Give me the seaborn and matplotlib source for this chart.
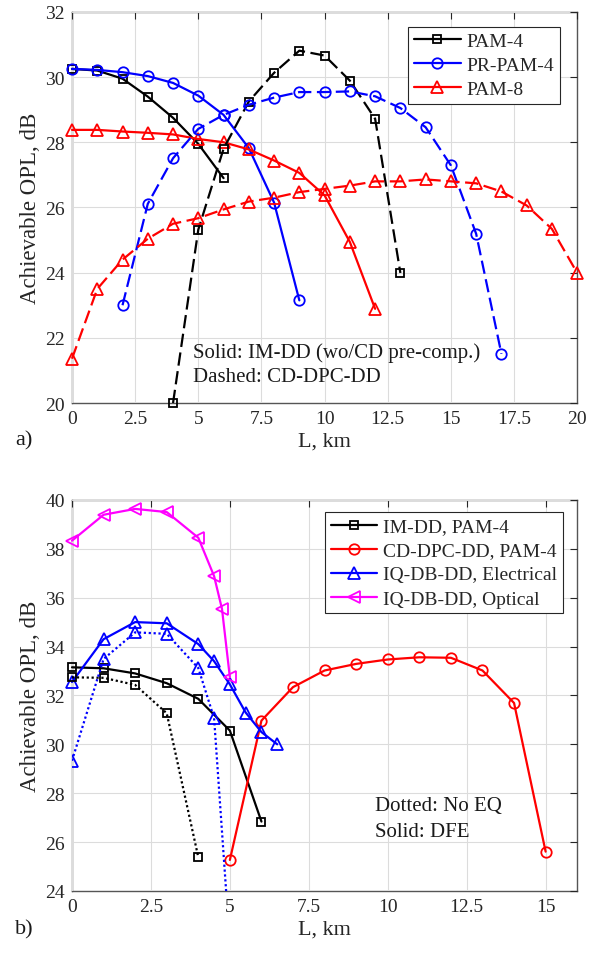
import numpy as np
import pandas as pd
import seaborn as sns
import matplotlib
matplotlib.use('Agg')
import matplotlib.pyplot as plt
from matplotlib.ticker import FuncFormatter

# ---- a) data: achievable OPL vs fibre length
L_pam4_im = [0, 1, 2, 3, 4, 5, 6]
opl_pam4_im = [30.25, 30.2, 29.95, 29.4, 28.75, 27.95, 26.9]
L_pr_im = [0, 1, 2, 3, 4, 5, 6, 7, 8, 9]
opl_pr_im = [30.25, 30.22, 30.15, 30.03, 29.82, 29.43, 28.84, 27.82, 26.15, 23.15]
L_pam8_im = [0, 1, 2, 3, 4, 5, 6, 7, 8, 9, 10, 11, 12]
opl_pam8_im = [28.38, 28.38, 28.33, 28.29, 28.24, 28.1, 28.0, 27.78, 27.44, 27.06, 26.37, 24.94, 22.89]

L_pam4_dpc = [4, 5, 6, 7, 8, 9, 10, 11, 12, 13]
opl_pam4_dpc = [20.0, 25.32, 27.8, 29.25, 30.13, 30.81, 30.66, 29.89, 28.72, 23.99]
L_pr_dpc = [2, 3, 4, 5, 6, 7, 8, 9, 10, 11, 12, 13, 14, 15, 16, 17]
opl_pr_dpc = [23.0, 26.11, 27.51, 28.41, 28.84, 29.15, 29.37, 29.54, 29.54, 29.56,
              29.41, 29.05, 28.46, 27.29, 25.19, 21.51]
L_pam8_dpc = [0, 1, 2, 3, 4, 5, 6, 7, 8, 9, 10, 11, 12, 13, 14, 15, 16, 17, 18, 19, 20]
opl_pam8_dpc = [21.36, 23.5, 24.4, 25.04, 25.5, 25.67, 25.94, 26.18, 26.3, 26.47, 26.57,
                26.67, 26.8, 26.8, 26.86, 26.8, 26.74, 26.49, 26.06, 25.34, 23.99]

# ---- b) data: equalisation comparison
L_imdd_dfe = [0, 1, 2, 3, 4, 5, 6]
opl_imdd_dfe = [33.15, 33.11, 32.9, 32.5, 31.86, 30.56, 26.84]
L_imdd_noeq = [0, 1, 2, 3, 4]
opl_imdd_noeq = [32.74, 32.72, 32.43, 31.27, 25.38]
L_dpc = [5, 6, 7, 8, 9, 10, 11, 12, 13, 14, 15]
opl_dpc = [25.27, 30.97, 32.34, 33.02, 33.29, 33.47, 33.56, 33.54, 33.02, 31.69, 25.61]
L_elec_dfe = [0, 1, 2, 3, 4, 4.5, 5, 5.5, 6, 6.5]
opl_elec_dfe = [32.55, 34.3, 35.0, 34.95, 34.1, 33.4, 32.45, 31.3, 30.5, 30.0]
L_elec_noeq = [0, 1, 2, 3, 4, 4.5, 5]
opl_elec_noeq = [29.33, 33.49, 34.58, 34.52, 33.12, 31.07, 21.8]
L_opt = [0, 1, 2, 3, 4, 4.5, 4.75, 5]
opl_opt = [38.33, 39.39, 39.63, 39.5, 38.45, 36.88, 35.54, 32.74]

sns.set_style('whitegrid')
plt.rcParams['font.family'] = ['Liberation Serif', 'DejaVu Serif']

DASH = (0, (6, 2.5))
DOT = (0, (1, 1.2))
fmt = FuncFormatter(lambda v, p: '%g' % v)


def draw(ax, x, y, color, marker, ls, ms, label=None, clip=False):
    sns.lineplot(x=x, y=y, ax=ax, color=color, marker=marker, linestyle=ls,
                 markersize=ms, markerfacecolor='none', markeredgecolor=color,
                 markeredgewidth=1.3, linewidth=1.6, sort=False, errorbar=None,
                 label=label, legend=False, clip_on=clip)


def style_axes(ax, xlim, xticks, ylim, yticks):
    ax.set_xlim(*xlim)
    ax.set_ylim(*ylim)
    ax.set_xticks(xticks)
    ax.set_yticks(yticks)
    ax.xaxis.set_major_formatter(fmt)
    ax.yaxis.set_major_formatter(fmt)
    ax.grid(True, color='#dcdcdc', linewidth=0.8)
    ax.set_axisbelow(True)
    ax.tick_params(direction='in', top=True, right=True, length=5, width=0.8,
                   labelsize=14, colors='#262626', pad=5)
    for s in ax.spines.values():
        s.set_color('#555555')
        s.set_linewidth(1.0)
        s.set_zorder(0.5)
    ax.set_xlabel('L, km', fontsize=16, color='#262626', labelpad=3)
    ax.set_ylabel('Achievable OPL, dB', fontsize=16.5, color='#262626', labelpad=3)


def add_legend(ax, anchor):
    leg = ax.legend(loc='upper right', bbox_to_anchor=anchor, borderaxespad=0,
                    fontsize=14, handlelength=2.4, handletextpad=0.3, labelspacing=0.33,
                    fancybox=False, framealpha=1, edgecolor='#262626', borderpad=0.3)
    leg.get_frame().set_linewidth(0.8)
    leg.set_zorder(5)


fig = plt.figure(figsize=(6.0, 9.54), dpi=100)

# ---------- a)
ax1 = fig.add_axes([0.12, 0.5765, 0.842, 0.41])
draw(ax1, L_pam4_im, opl_pam4_im, 'black', 's', '-', 5.5, 'PAM-4')
draw(ax1, L_pr_im, opl_pr_im, '#0000ff', 'o', '-', 7.5, 'PR-PAM-4')
draw(ax1, L_pam8_im, opl_pam8_im, '#ff0000', '^', '-', 8, 'PAM-8')
draw(ax1, L_pam4_dpc, opl_pam4_dpc, 'black', 's', DASH, 5.5)
draw(ax1, L_pr_dpc, opl_pr_dpc, '#0000ff', 'o', DASH, 7.5)
draw(ax1, L_pam8_dpc, opl_pam8_dpc, '#ff0000', '^', DASH, 8)
style_axes(ax1, (0, 20), np.arange(0, 20.1, 2.5), (20, 32), np.arange(20, 32.1, 2))
add_legend(ax1, (0.966, 0.962))
ax1.text(4.8, 21.55, 'Solid: IM-DD (wo/CD pre-comp.)', fontsize=15, va='center', color='#1a1a1a')
ax1.text(4.8, 20.8, 'Dashed: CD-DPC-DD', fontsize=15, va='center', color='#1a1a1a')

# ---------- b)
ax2 = fig.add_axes([0.12, 0.065, 0.842, 0.41])
draw(ax2, L_imdd_dfe, opl_imdd_dfe, 'black', 's', '-', 5.5, 'IM-DD, PAM-4')
draw(ax2, L_dpc, opl_dpc, '#ff0000', 'o', '-', 7.5, 'CD-DPC-DD, PAM-4')
draw(ax2, L_elec_dfe, opl_elec_dfe, '#0000ff', '^', '-', 8, 'IQ-DB-DD, Electrical')
draw(ax2, L_opt, opl_opt, '#ff00ff', '<', '-', 8, 'IQ-DB-DD, Optical')
draw(ax2, L_imdd_noeq, opl_imdd_noeq, 'black', 's', DOT, 5.5)
draw(ax2, L_elec_noeq, opl_elec_noeq, '#0000ff', '^', DOT, 8, clip=True)
style_axes(ax2, (0, 16), np.arange(0, 15.1, 2.5), (24, 40), np.arange(24, 40.1, 2))
add_legend(ax2, (0.972, 0.969))
ax2.text(9.6, 27.5, 'Dotted: No EQ', fontsize=15, va='center', color='#1a1a1a')
ax2.text(9.6, 26.45, 'Solid: DFE', fontsize=15, va='center', color='#1a1a1a')

fig.text(0.025, 1 - 441 / 954, 'a)', fontsize=16, va='center', color='#1a1a1a')
fig.text(0.025, 1 - 930 / 954, 'b)', fontsize=16, va='center', color='#1a1a1a')

fig.savefig('out.png', dpi=100)
